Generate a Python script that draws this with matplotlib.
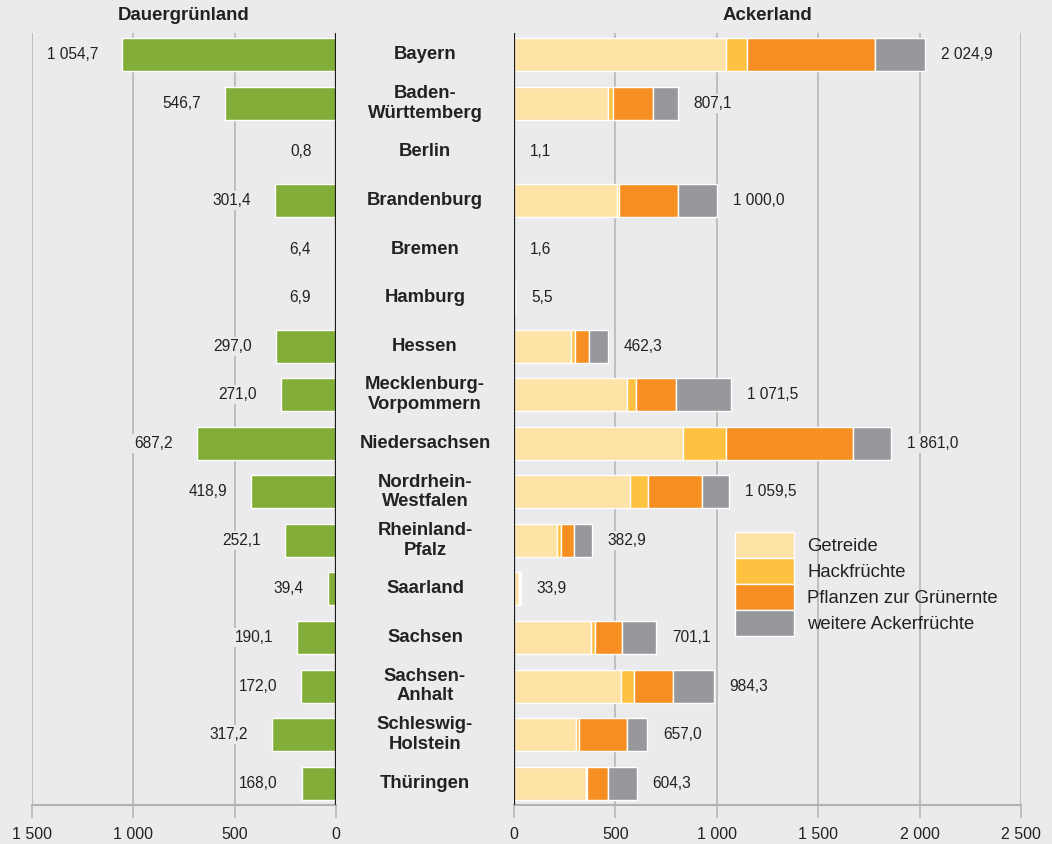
import numpy as np
import matplotlib
matplotlib.use("Agg")
import matplotlib.pyplot as plt
import matplotlib.transforms as mtrans
from matplotlib.patches import Patch

# Landwirtschaftlich genutzte Fläche nach Bundesländern (1 000 ha)

plt.rcParams['font.family'] = ['Liberation Sans', 'DejaVu Sans']

BG = "#ebebed"
GRID = "#b2b2b2"
TXT = "#222222"

laender = ["Bayern", "Baden-\nWürttemberg", "Berlin", "Brandenburg", "Bremen",
           "Hamburg", "Hessen", "Mecklenburg-\nVorpommern", "Niedersachsen",
           "Nordrhein-\nWestfalen", "Rheinland-\nPfalz", "Saarland", "Sachsen",
           "Sachsen-\nAnhalt", "Schleswig-\nHolstein", "Thüringen"]

dauergruen = [1054.7, 546.7, 0.8, 301.4, 6.4, 6.9, 297.0, 271.0, 687.2,
              418.9, 252.1, 39.4, 190.1, 172.0, 317.2, 168.0]

getreide = [1045, 463, 0.5, 507, 0.6, 2.5, 280, 558, 833, 570, 211, 26.5, 379, 529, 306, 356]
hack     = [105, 26, 0.1, 13, 0.1, 0.3, 20, 42, 214, 91, 23, 1.5, 21, 62, 14, 6]
gruen    = [630, 197, 0.2, 289, 0.5, 1.5, 69, 197, 625, 267, 62, 4, 134, 195, 238, 101]
acker_total = [2024.9, 807.1, 1.1, 1000.0, 1.6, 5.5, 462.3, 1071.5, 1861.0,
               1059.5, 382.9, 33.9, 701.1, 984.3, 657.0, 604.3]
# rest = weitere Ackerfrüchte
weitere = [t - a - b - c for t, a, b, c in zip(acker_total, getreide, hack, gruen)]

serien = ["Getreide", "Hackfrüchte", "Pflanzen zur Grünernte", "weitere Ackerfrüchte"]
farben = ["#fee2a6", "#ffc140", "#f68e22", "#97989b"]
GREEN = "#82ad38"

ticks_links = [0, 500, 1000, 1500]
ticks_rechts = [0, 500, 1000, 1500, 2000, 2500]


def fmt(v):
    s = f"{v:,.1f}"
    return s.replace(",", " ").replace(".", ",")


def fmt_tick(v, pos=None):
    return f"{int(v):,}".replace(",", " ")


W, H = 1052, 844
fig = plt.figure(figsize=(W / 100, H / 100), dpi=100, facecolor=BG)
bot = (H - 805) / H
hgt = (805 - 33) / H
axL = fig.add_axes([32 / W, bot, (336 - 32) / W, hgt])
axR = fig.add_axes([514 / W, bot, (1021 - 514) / W, hgt])

y = np.arange(len(laender))
bh = 0.68

for ax in (axL, axR):
    ax.set_facecolor(BG)
    ax.set_ylim(len(laender) - 0.55, -0.45)
    ax.set_yticks([])
    for s in ("top", "left", "right"):
        ax.spines[s].set_visible(False)
    ax.spines["bottom"].set_color(GRID)
    ax.spines["bottom"].set_linewidth(1.5)
    ax.grid(axis="x", color=GRID, lw=1.1)
    ax.set_axisbelow(True)
    ax.tick_params(axis="x", colors=GRID, length=9, width=1.1, pad=7,
                   labelsize=11.5, labelcolor=TXT)
    ax.xaxis.set_major_formatter(fmt_tick)
    ax.axvline(0, color="#1a1a1a", lw=1.6, zorder=4)

# links: Dauergrünland
axL.set_xlim(1500, 0)
axL.set_xticks(ticks_links)
axL.barh(y, dauergruen, height=bh, color=GREEN, edgecolor="white", lw=1, zorder=3)
for yi, v in zip(y, dauergruen):
    axL.annotate(fmt(v), (v, yi), xytext=(-24, 0), textcoords="offset pixels",
                 ha="right", va="center", fontsize=11.2, color=TXT, zorder=5,
                 bbox=dict(facecolor=BG, edgecolor="none", pad=1.5))

# rechts: Ackerland gestapelt
axR.set_xlim(0, 2500)
axR.set_xticks(ticks_rechts)
left = np.zeros(len(laender))
for vals, name, col in zip([getreide, hack, gruen, weitere], serien, farben):
    axR.barh(y, vals, left=left, height=bh, color=col, edgecolor="white", lw=1,
             zorder=3, label=name)
    left += np.array(vals)
for yi, v in zip(y, acker_total):
    axR.annotate(fmt(v), (v, yi), xytext=(16, 0), textcoords="offset pixels",
                 ha="left", va="center", fontsize=11.2, color=TXT, zorder=5,
                 bbox=dict(facecolor=BG, edgecolor="none", pad=1.5))

# Ländernamen in der Mitte
tr = mtrans.blended_transform_factory(axR.transAxes, axR.transData)
for yi, name in zip(y, laender):
    axR.text((425 - 514) / (1021 - 514), yi, name, transform=tr, ha="center",
             va="center", fontsize=13.3, fontweight="bold", color=TXT,
             linespacing=1.2, clip_on=False)

fig.text(184 / W, 1 - 16 / H, "Dauergrünland", ha="center", va="center",
         fontsize=13.4, fontweight="bold", color=TXT)
fig.text(767 / W, 1 - 16 / H, "Ackerland", ha="center", va="center",
         fontsize=13.4, fontweight="bold", color=TXT)

handles = [Patch(facecolor=c, edgecolor="white", lw=1, label=n) for n, c in zip(serien, farben)]
leg = axR.legend(handles=handles, loc="upper left", bbox_to_anchor=(735 / W, 1 - 532 / H),
                 bbox_transform=fig.transFigure, frameon=False, borderpad=0,
                 labelspacing=0, handlelength=3.22, handleheight=1.78,
                 handletextpad=0.7, fontsize=13.3, borderaxespad=0)
for t in leg.get_texts():
    t.set_color(TXT)

fig.savefig("out.png", dpi=100, facecolor=BG)
